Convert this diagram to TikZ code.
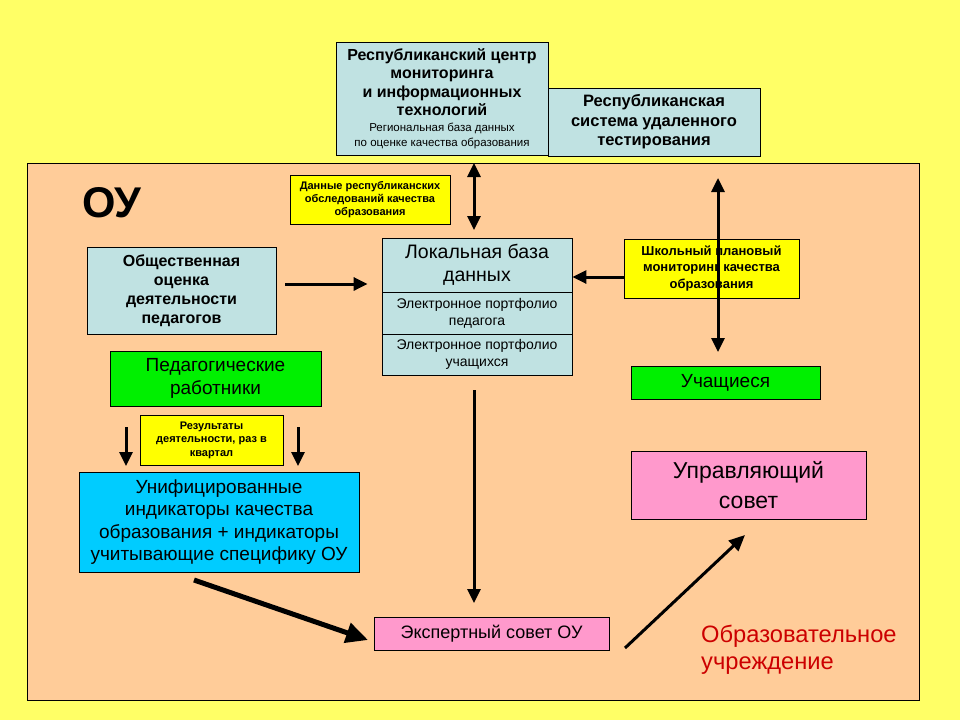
\documentclass[tikz,border=0pt]{standalone}
\usepackage{fontspec}
\setmainfont{Liberation Sans}
\usetikzlibrary{arrows.meta}

\definecolor{bgyellow}{RGB}{255,255,102}
\definecolor{peach}{RGB}{255,204,153}
\definecolor{lblue}{RGB}{192,226,226}
\definecolor{boxyellow}{RGB}{255,255,0}
\definecolor{boxgreen}{RGB}{0,240,0}
\definecolor{boxcyan}{RGB}{0,204,255}
\definecolor{boxpink}{RGB}{255,153,204}
\definecolor{darkred}{RGB}{204,0,0}

\begin{document}
\begin{tikzpicture}[x=1pt,y=-1pt,
    box/.style={draw, line width=0.8pt, align=center, inner sep=0pt},
    arr/.style={line width=3pt, -{Triangle[length=14pt,width=13pt]}},
    darr/.style={line width=3pt, {Triangle[length=14pt,width=13pt]}-{Triangle[length=14pt,width=13pt]}}]

    % background
    \useasboundingbox (0,0) rectangle (960,720);
    \fill[bgyellow] (0,0) rectangle (960,720);
    \draw[fill=peach, line width=0.8pt] (27,163) rectangle (919,700);

    % republic level
    \node[box, fill=lblue, minimum width=212pt, minimum height=113pt,
          font=\fontsize{16}{18.5}\selectfont\bfseries] (rcmi) at (442,98.5)
        {Республиканский центр\\ мониторинга\\ и информационных\\ технологий\\[-3pt]
         \fontsize{11.5}{12.5}\selectfont\mdseries Региональная база данных\\[-3pt]
         \fontsize{11.5}{12.5}\selectfont\mdseries по оценке качества образования};
    \node[box, fill=lblue, minimum width=212pt, minimum height=68pt,
          font=\fontsize{16.5}{19.5}\selectfont\bfseries] (rsut) at (654,122)
        {Республиканская\\ система удаленного\\ тестирования};

    \node[font=\fontsize{43}{43}\selectfont\bfseries] (ou) at (112,203) {ОУ};

    \node[box, fill=boxyellow, minimum width=160pt, minimum height=49pt,
          font=\fontsize{11}{13}\selectfont\bfseries] (rdata) at (370,199.5)
        {Данные республиканских\\ обследований качества\\ образования};

    % local data base
    \node[box, fill=lblue, minimum width=190pt, minimum height=54pt,
          font=\fontsize{19.5}{23}\selectfont] (ldb) at (477,265)
        {Локальная база\\ данных};
    \node[box, fill=lblue, minimum width=190pt, minimum height=42pt,
          font=\fontsize{14}{17}\selectfont] (portped) at (477,313)
        {Электронное портфолио\\ педагога};
    \node[box, fill=lblue, minimum width=190pt, minimum height=41pt,
          font=\fontsize{14}{17}\selectfont] (portuch) at (477,354.5)
        {Электронное портфолио\\ учащихся};

    \node[box, fill=lblue, minimum width=189pt, minimum height=87pt,
          font=\fontsize{16}{19}\selectfont\bfseries] (obsh) at (181.5,290.5)
        {Общественная\\ оценка\\ деятельности\\ педагогов};
    \node[box, fill=boxyellow, minimum width=175pt, minimum height=59pt,
          font=\fontsize{13}{16.5}\selectfont\bfseries] (shkol) at (711.5,268.5)
        {Школьный плановый\\ мониторинг качества\\ образования};

    \node[box, fill=boxgreen, minimum width=189pt, minimum height=33pt,
          font=\fontsize{19}{22}\selectfont] (uch) at (725.5,382.5)
        {Учащиеся};
    \node[box, fill=boxgreen, minimum width=211pt, minimum height=55pt,
          font=\fontsize{19}{23.5}\selectfont] (ped) at (215.5,378.5)
        {Педагогические\\ работники};
    \node[box, fill=boxyellow, minimum width=143pt, minimum height=50pt,
          font=\fontsize{11}{13.5}\selectfont\bfseries] (rez) at (211.5,440)
        {Результаты\\ деятельности, раз в\\ квартал};

    \node[box, fill=boxcyan, minimum width=280pt, minimum height=100pt,
          font=\fontsize{19}{22.5}\selectfont] (unif) at (219,522)
        {Унифицированные\\ индикаторы качества\\ образования + индикаторы\\ учитывающие специфику ОУ};

    \node[box, fill=boxpink, minimum width=235pt, minimum height=33pt,
          font=\fontsize{18}{21}\selectfont] (eks) at (491.5,633.5)
        {Экспертный совет ОУ};
    \node[box, fill=boxpink, minimum width=235pt, minimum height=68pt,
          font=\fontsize{23}{30}\selectfont] (upr) at (748.5,485)
        {Управляющий\\ совет};

    \node[anchor=north west, align=left, text=darkred, inner sep=0pt,
          font=\fontsize{23.7}{27}\selectfont] (obrz) at (701,625) {Образовательное\\ учреждение};

    % arrow ends
    \coordinate (c1) at (474,163);
    \coordinate (c2) at (474,230);
    \coordinate (c3) at (718,178);
    \coordinate (c4) at (718,352);
    \coordinate (c5) at (474,390);
    \coordinate (c6) at (474,603);
    \coordinate (c7) at (126,427);
    \coordinate (c8) at (126,466);
    \coordinate (c9) at (298,427);
    \coordinate (c10) at (298,466);
    \coordinate (c11) at (194,580);
    \coordinate (c12) at (368,640);
    \coordinate (c13) at (625,648);
    \coordinate (c14) at (745,535);

    % arrows
    \draw[darr] (c1) -- (c2);
    \draw[darr] (c3) -- (c4);
    \draw[arr, shorten <=9pt, shorten >=14pt] ([yshift=6.5pt]obsh.east) -- ([yshift=6.5pt]obsh.east -| ldb.west);
    \draw[arr] ([yshift=-8.5pt]shkol.west) -- ([yshift=-8.5pt]shkol.west -| ldb.east);
    \draw[arr] (c5) -- (c6);
    \draw[arr] (c7) -- (c8);
    \draw[arr] (c9) -- (c10);
    \draw[line width=5pt, -{Triangle[length=22pt,width=20pt]}] (c11) -- (c12);
    \draw[line width=3pt, -{Triangle[length=16pt,width=14pt]}] (c13) -- (c14);
\end{tikzpicture}
\end{document}
